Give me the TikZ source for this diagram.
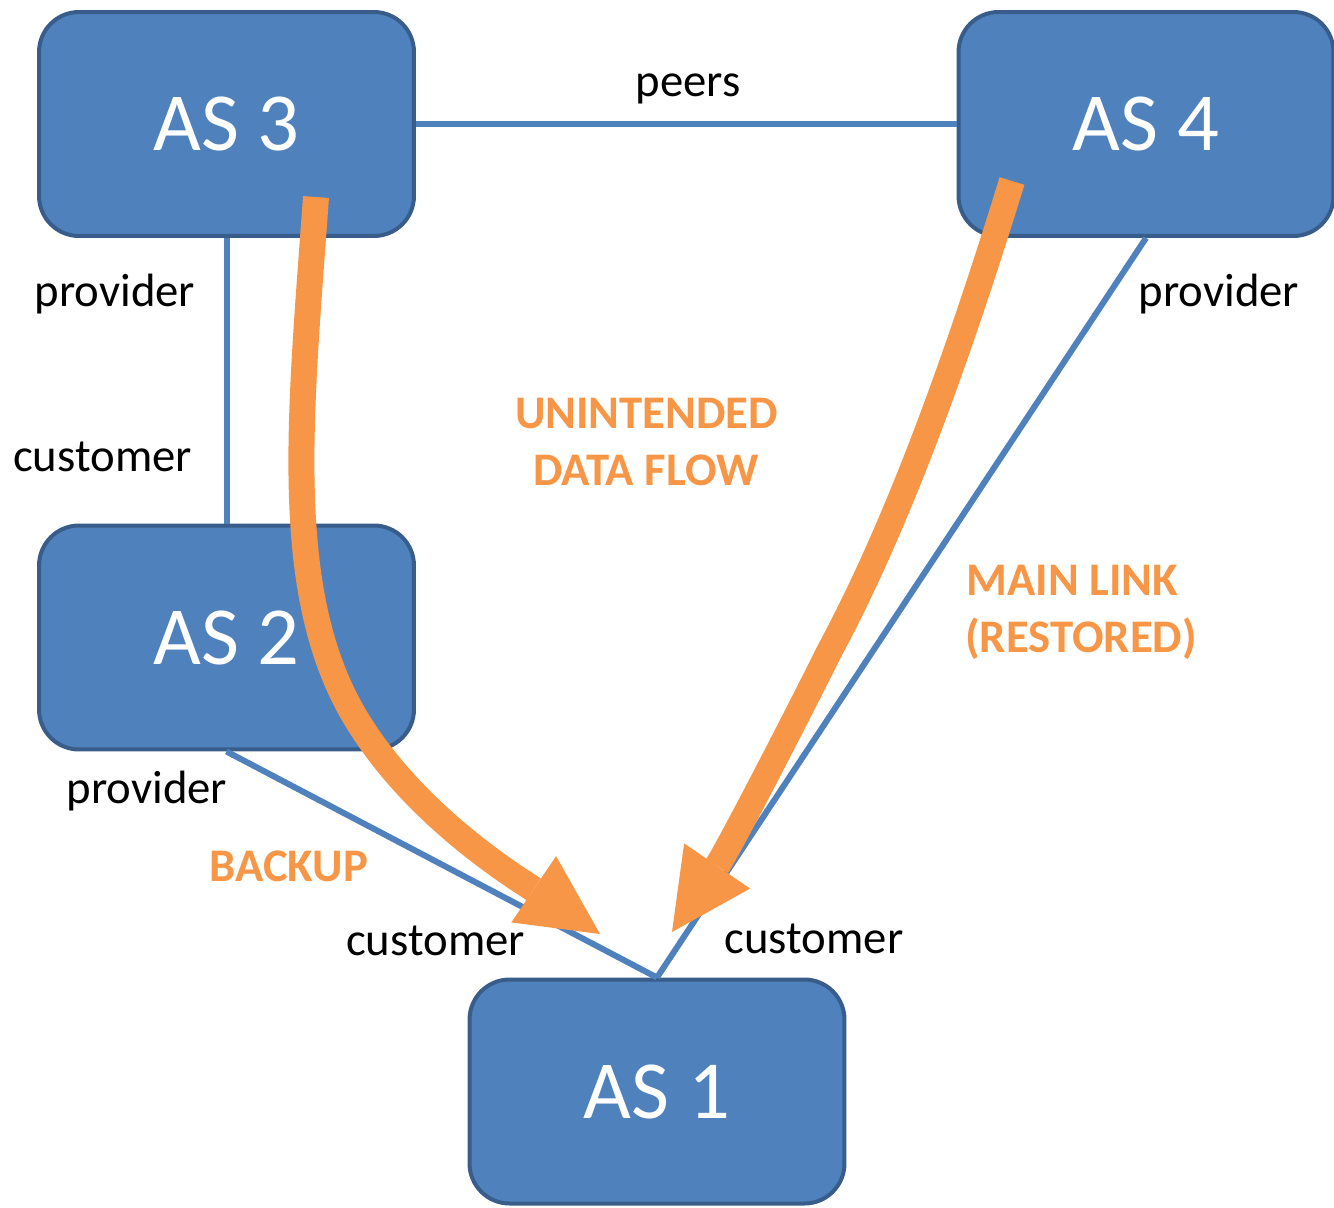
\documentclass[tikz,border=0pt]{standalone}
\usepackage{fontspec}
\setmainfont{Carlito}
\usetikzlibrary{arrows.meta}
\definecolor{asfill}{HTML}{4F81BD}
\definecolor{asedge}{HTML}{385D8A}
\definecolor{flow}{HTML}{F79646}
\begin{document}
\begin{tikzpicture}[x=0.02cm, y=-0.02cm,
  asbox/.style={draw=asedge, fill=asfill, line width=0.08cm, rounded corners=0.8cm,
    minimum width=7.5cm, minimum height=4.48cm, inner sep=0pt, text=white,
    font=\fontsize{47}{56}\selectfont},
  link/.style={draw=asfill, line width=0.12cm},
  lbl/.style={anchor=base, inner sep=0pt, font=\fontsize{26.6}{32}\selectfont},
  note/.style={anchor=base, inner sep=0pt, text=flow, font=\bfseries\fontsize{26.6}{32}\selectfont},
  flowarrow/.style={draw=flow, line width=0.52cm,
    -{Triangle[length=1.6cm, width=1.6cm, line width=0pt]}}]
\useasboundingbox (0,0) rectangle (1334,1207);

% autonomous systems
\node[asbox] (as3) at (226.5,124) {AS 3};
\node[asbox] (as4) at (1146,124) {AS 4};
\node[asbox] (as2) at (226.5,637.5) {AS 2};
\node[asbox] (as1) at (657,1091.5) {AS 1};

% AS relationships
\draw[link] (as3.east) -- (as4.west);
\draw[link] (as3.south) -- (as2.north);
\draw[link] (as2.south) -- (as1.north);
\draw[link] (as4.south) -- (as1.north);

% relationship labels
\node[lbl] (lpeers) at (688,96) {peers};
\node[lbl] (lprov3) at (115,306) {provider};
\node[lbl] (lcust2) at (102.5,471) {customer};
\node[lbl] (lprov2) at (147,803) {provider};
\node[lbl] (lcust1a) at (435.5,955) {customer};
\node[lbl] (lcust1b) at (814,953) {customer};
\node[lbl] (lprov4) at (1219,306) {provider};

% annotations
\node[note] (nflow1) at (646.5,428) {UNINTENDED};
\node[note] (nflow2) at (646,485) {DATA FLOW};
\node[note, anchor=base west] (nmain1) at (966,595) {MAIN LINK};
\node[note, anchor=base west] (nmain2) at (965,652) {(RESTORED)};
\node[note] (nbackup) at (289,881) {BACKUP};

% data flows
\coordinate (f3s) at (316,197);
\coordinate (f3e) at (600,934);
\coordinate (f4s) at (1012,181);
\coordinate (f4e) at (672,932);
\draw[flowarrow] (f3s) .. controls (300,420) and (280,600) .. (360,725)
  .. controls (420,820) and (520,880) .. (f3e);
\draw[flowarrow] (f4s) .. controls (960,350) and (900,520) .. (830,650)
  .. controls (785,740) and (726,853) .. (f4e);
\end{tikzpicture}
\end{document}
